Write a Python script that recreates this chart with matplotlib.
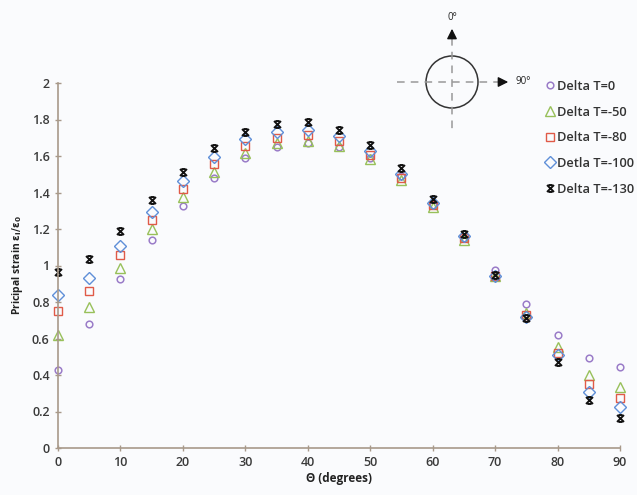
import matplotlib
matplotlib.use("Agg")
import matplotlib.pyplot as plt
from matplotlib.path import Path

theta = [0, 5, 10, 15, 20, 25, 30, 35, 40, 45, 50, 55, 60, 65, 70, 75, 80, 85, 90]

dt_0 = [0.426, 0.68, 0.924, 1.142, 1.328, 1.479, 1.588, 1.648, 1.671, 1.648, 1.588,
        1.49, 1.33, 1.15, 0.975, 0.789, 0.617, 0.494, 0.445]
dt_50 = [0.62, 0.771, 0.989, 1.198, 1.377, 1.512, 1.619, 1.670, 1.682, 1.655, 1.584,
         1.47, 1.32, 1.14, 0.94, 0.74, 0.553, 0.40, 0.336]
dt_80 = [0.753, 0.858, 1.056, 1.25, 1.421, 1.555, 1.657, 1.70, 1.715, 1.682, 1.606,
         1.479, 1.33, 1.15, 0.945, 0.73, 0.521, 0.348, 0.272]
dt_100 = [0.84, 0.929, 1.107, 1.292, 1.461, 1.593, 1.691, 1.733, 1.744, 1.710, 1.63,
          1.501, 1.34, 1.16, 0.945, 0.72, 0.508, 0.309, 0.227]
dt_130 = [0.967, 1.038, 1.189, 1.359, 1.515, 1.642, 1.733, 1.778, 1.784, 1.742, 1.661,
          1.534, 1.365, 1.17, 0.95, 0.71, 0.472, 0.263, 0.163]

labels = ["Delta T=0", "Delta T=-50", "Delta T=-80", "Detla T=-100", "Delta T=-130"]

# x with short bars top and bottom
star = Path(
    [(-1, -1), (1, 1), (-1, 1), (1, -1), (-0.6, 1), (0.6, 1), (-0.6, -1), (0.6, -1)],
    [Path.MOVETO, Path.LINETO] * 4,
)

styles = [
    dict(marker="o", color="#9a7cc8", ms=4.8, mew=1.1),
    dict(marker="^", color="#98c05a", ms=7, mew=1.0),
    dict(marker="s", color="#e05a48", ms=6.3, mew=1.0),
    dict(marker="D", color="#5f8fd8", ms=6, mew=1.0),
    dict(marker=star, color="#111111", ms=5, mew=1.4),
]

plt.rcParams["font.family"] = ["Open Sans", "DejaVu Sans"]

fig = plt.figure(figsize=(6.37, 4.95), dpi=100, facecolor="#fafbfd")
ax = fig.add_axes([58 / 637, 47 / 495, 562 / 637, 365 / 495])
ax.set_facecolor("#fafbfd")

for ys, lab, st in zip([dt_0, dt_50, dt_80, dt_100, dt_130], labels, styles):
    ax.plot(theta, ys, linestyle="none", marker=st["marker"], ms=st["ms"],
            markerfacecolor="none", markeredgecolor=st["color"],
            markeredgewidth=st["mew"], label=lab, clip_on=False)

ax.set_xlim(0, 90)
ax.set_ylim(0, 2)
ax.set_xticks(range(0, 91, 10))
ax.set_yticks([0, 0.2, 0.4, 0.6, 0.8, 1, 1.2, 1.4, 1.6, 1.8, 2])
ax.set_yticklabels(["0", "0.2", "0.4", "0.6", "0.8", "1", "1.2", "1.4", "1.6", "1.8", "2"])

for side in ["top", "right"]:
    ax.spines[side].set_visible(False)
for side in ["left", "bottom"]:
    ax.spines[side].set_color("#a8998a")
    ax.spines[side].set_linewidth(1.2)
ax.tick_params(direction="inout", length=5, width=1, color="#a8998a",
               labelsize=9, labelcolor="#3a3a3a")
for t in ax.get_xticklabels() + ax.get_yticklabels():
    t.set_fontweight("semibold")

ax.set_xlabel("Θ (degrees)", fontsize=8.5, fontweight="bold", color="#222222", labelpad=2)
ax.set_ylabel(r"Pricipal strain $\mathbf{\varepsilon_i/\varepsilon_0}$", fontsize=7.5,
              fontweight="bold", color="#222222", labelpad=5)

leg = ax.legend(loc="upper left", bbox_to_anchor=(547 / 637, 1 - 80 / 495),
                bbox_transform=fig.transFigure, frameon=False, fontsize=9.3,
                handlelength=0.5, handletextpad=0.25, labelspacing=0.98,
                borderaxespad=0, borderpad=0)
for t in leg.get_texts():
    t.set_color("#333333")
    t.set_fontweight("semibold")

# orientation sketch, drawn in figure pixel space
ov = fig.add_axes([0, 0, 1, 1], facecolor="none")
ov.set_xlim(0, 637)
ov.set_ylim(495, 0)
ov.axis("off")
cx, cy, r = 452, 82, 26
circ = plt.Circle((cx, cy), r, fill=False, color="#333333", lw=1.1)
ov.add_patch(circ)
ov.plot([cx, cx], [38, 133], ls=(0, (5, 4)), color="#999999", lw=1.1)
ov.plot([397, 500], [cy, cy], ls=(0, (5, 4)), color="#999999", lw=1.1)
ov.annotate("", xy=(cx, 26), xytext=(cx, 40),
            arrowprops=dict(arrowstyle="-|>", color="#111111", lw=1, mutation_scale=15))
ov.annotate("", xy=(511, cy), xytext=(497, cy),
            arrowprops=dict(arrowstyle="-|>", color="#111111", lw=1, mutation_scale=15))
ov.text(cx, 17, "0°", ha="center", va="center", fontsize=7, color="#222222")
ov.text(515, cy, "90°", ha="left", va="center", fontsize=7, color="#222222")

fig.savefig("out.png", dpi=100, facecolor=fig.get_facecolor())
